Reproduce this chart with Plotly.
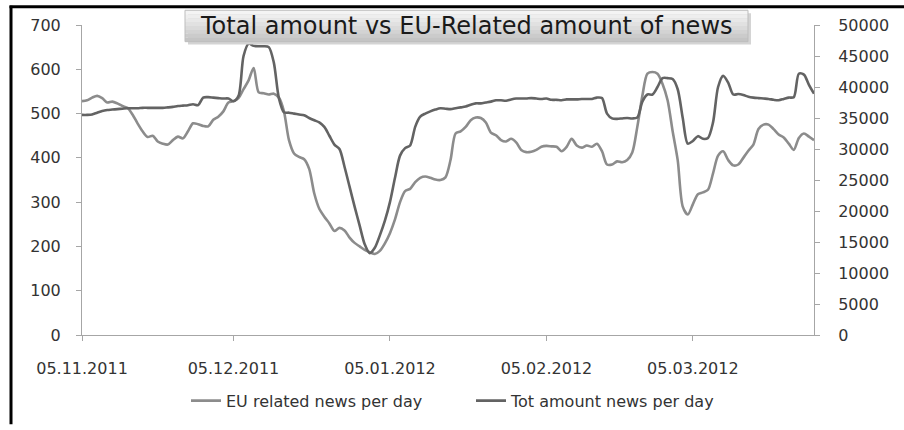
import pandas as pd
import plotly.graph_objects as go

# ---------------- data ----------------
start_date = "2011-11-05"
tick_dates = ["2011-11-05", "2011-12-05", "2012-01-05", "2012-02-05", "2012-03-05"]
tick_labels = ["05.11.2011", "05.12.2011", "05.01.2012", "05.02.2012", "05.03.2012"]
left_ticks = [0, 100, 200, 300, 400, 500, 600, 700]
right_ticks = [0, 5000, 10000, 15000, 20000, 25000, 30000, 35000, 40000, 45000, 50000]
right_labels = ["0", "5000", "10000", "15000", "20000", "25000", "30000", "35000", "40000", "45000", "50000"]

eu_news = [
    528, 530, 536, 540, 535, 525, 527, 523, 517, 513,
    498, 478, 460, 447, 450, 437, 432, 430, 440, 448,
    444, 460, 478, 476, 472, 471, 486, 493, 505, 525,
    528, 535, 555, 575, 603, 548, 546, 543, 545, 536,
    505, 440, 410, 402, 397, 375, 320, 285, 267, 252,
    235, 242, 236, 220, 208, 200, 192, 187, 183, 190,
    207, 230, 261, 300, 325, 330, 345, 355, 358, 355,
    351, 350, 356, 395, 455, 460, 470, 485, 491, 490,
    480, 457, 451, 440, 437, 443, 435, 418, 413, 414,
    418, 425, 427, 426, 425, 415, 425, 443, 428, 423,
    428, 425, 432, 415, 385, 385, 392, 390, 395, 412,
    470, 540, 590, 594, 590, 567, 530, 460, 395, 290,
    272, 295, 318, 322, 328, 365, 405, 415, 395, 383,
    385, 400, 416, 430, 465, 475, 475, 465, 453, 446,
    432, 418, 445, 455, 448, 440,
]

tot_news = [
    35500, 35500, 35570, 35860, 36140, 36290, 36360, 36430, 36500, 36570,
    36570, 36570, 36640, 36640, 36640, 36640, 36640, 36710, 36790, 36930,
    37000, 37070, 37210, 37070, 38290, 38360, 38290, 38210, 38140, 38140,
    37710, 38570, 45000, 47000, 46640, 46570, 46570, 46430, 43930, 38210,
    35930, 35860, 35710, 35570, 35430, 35000, 34640, 34290, 33570, 32140,
    30710, 30000, 27140, 23930, 20710, 17640, 14640, 13210, 14070, 16070,
    18430, 21430, 25360, 28930, 30140, 30570, 33570, 35210, 35710, 36070,
    36360, 36570, 36500, 36430, 36570, 36710, 36860, 37140, 37360, 37360,
    37500, 37640, 37860, 37860, 37790, 38000, 38140, 38140, 38140, 38210,
    38140, 38070, 38140, 37930, 37930, 37860, 38000, 38000, 38000, 38070,
    38070, 38070, 38290, 38210, 35710, 34930, 34860, 34930, 35000, 34930,
    35070, 37640, 38790, 38790, 40000, 41430, 41430, 41290, 39640, 35000,
    30860, 31290, 32070, 31640, 31790, 34290, 40000, 41790, 40710, 38790,
    38860, 38710, 38430, 38290, 38210, 38140, 38070, 37930, 37860, 38070,
    38290, 38360, 42140, 42000, 40360, 38930,
]

series_names = ["EU related news per day", "Tot amount news per day"]
title_text = "Total amount vs EU-Related amount of news"

dates = pd.date_range(start_date, periods=len(eu_news), freq="D")

# ---------------- geometry helpers (pixels -> paper) ----------------
W, H = 904, 430
PL, PR, PT, PB = 82, 814, 25, 341


def px(x):
    return (x - PL) / (PR - PL)


def py(y):
    return (PB - y) / (PB - PT)


FONT = "DejaVu Sans"
AXIS_GRAY = "#a6a6a6"
TEXT = "#333333"
TICK_SIZE = 16

fig = go.Figure()
fig.add_trace(go.Scatter(
    x=dates, y=eu_news, name=series_names[0], mode="lines",
    line=dict(color="#8c8c8c", width=2.6, shape="spline", smoothing=0.8),
))
fig.add_trace(go.Scatter(
    x=dates, y=tot_news, name=series_names[1], mode="lines", yaxis="y2",
    line=dict(color="#636363", width=2.6, shape="spline", smoothing=0.8),
))

shapes = []
# title box: shadow + gradient bands
bx0, bx1, by0, by1 = 185, 748, 10, 42
shapes.append(dict(type="rect", xref="paper", yref="paper",
                   x0=px(bx0 + 3), x1=px(bx1 + 3), y0=py(by1 + 3), y1=py(by0 + 3),
                   fillcolor="#d4d4d4", line=dict(width=0), layer="above"))
band_colors = ["#f4f4f4", "#eeeeee", "#e8e8e8", "#e1e1e1", "#dadada", "#d3d3d3", "#cbcbcb", "#c4c4c4"]
nb = len(band_colors)
for i, c in enumerate(band_colors):
    y0 = by0 + (by1 - by0) * i / nb
    y1 = by0 + (by1 - by0) * (i + 1) / nb
    shapes.append(dict(type="rect", xref="paper", yref="paper",
                       x0=px(bx0), x1=px(bx1), y0=py(y1), y1=py(y0),
                       fillcolor=c, line=dict(width=0), layer="above"))
shapes.append(dict(type="rect", xref="paper", yref="paper",
                   x0=px(bx0), x1=px(bx1), y0=py(by1), y1=py(by0),
                   fillcolor="rgba(0,0,0,0)", line=dict(width=1, color="#bdbdbd"), layer="above"))
# outer frame: left and top black lines
shapes.append(dict(type="line", xref="paper", yref="paper",
                   x0=px(11), x1=px(11), y0=py(5.5), y1=py(H + 2),
                   line=dict(color="black", width=3)))
shapes.append(dict(type="line", xref="paper", yref="paper",
                   x0=px(9.5), x1=px(W + 2), y0=py(6.5), y1=py(6.5),
                   line=dict(color="black", width=3)))

fig.update_layout(
    width=W, height=H,
    margin=dict(l=PL, r=W - PR, t=PT, b=H - PB, pad=0),
    paper_bgcolor="white", plot_bgcolor="white",
    font=dict(family=FONT, size=14, color=TEXT),
    showlegend=True,
    legend=dict(orientation="h", x=px(186), xanchor="left", y=py(408), yanchor="middle",
                font=dict(family=FONT, size=16, color=TEXT), bgcolor="rgba(0,0,0,0)",
                itemwidth=30, entrywidth=240, entrywidthmode="pixels"),
    xaxis=dict(
        type="date", range=[dates[0], dates[-1]],
        tickvals=tick_dates, ticktext=tick_labels,
        showline=True, linecolor=AXIS_GRAY, linewidth=1,
        ticks="outside", ticklen=5, tickcolor=AXIS_GRAY,
        showgrid=False, zeroline=False,
        tickfont=dict(family=FONT, size=TICK_SIZE, color=TEXT),
        ticklabelstandoff=14,
    ),
    yaxis=dict(
        range=[0, 700], tickvals=left_ticks,
        showline=True, linecolor=AXIS_GRAY, linewidth=1,
        ticks="outside", ticklen=5, tickcolor=AXIS_GRAY,
        showgrid=False, zeroline=False,
        tickfont=dict(family=FONT, size=TICK_SIZE, color=TEXT),
        ticklabelstandoff=12,
    ),
    yaxis2=dict(
        range=[0, 50000], tickvals=right_ticks, ticktext=right_labels,
        overlaying="y", side="right",
        showline=True, linecolor=AXIS_GRAY, linewidth=1,
        ticks="outside", ticklen=5, tickcolor=AXIS_GRAY,
        showgrid=False, zeroline=False,
        tickfont=dict(family=FONT, size=TICK_SIZE, color=TEXT),
        ticklabelstandoff=15,
    ),
    shapes=shapes,
    annotations=[dict(
        text=title_text, xref="paper", yref="paper",
        x=px((bx0 + bx1) / 2), y=py((by0 + by1) / 2), xanchor="center", yanchor="middle",
        showarrow=False, font=dict(family=FONT, size=24, color="#1a1a1a"),
    )],
)

fig.write_html("out.html")
